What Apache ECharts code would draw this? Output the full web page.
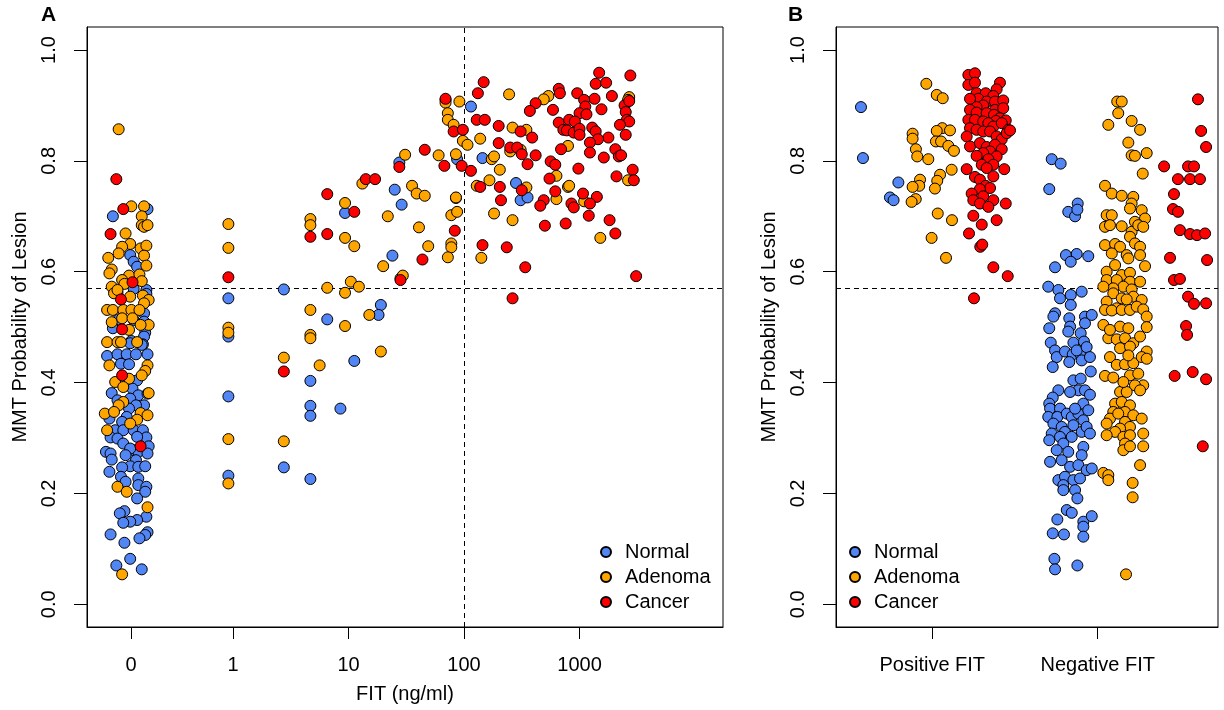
<!DOCTYPE html>
<html><head><meta charset="utf-8">
<script src="https://cdn.jsdelivr.net/npm/echarts@6/dist/echarts.min.js"></script>
<style>html,body{margin:0;padding:0;background:#fff}#c{width:1224px;height:710px}</style>
</head><body><div id="c"></div>
<script>
// ---------- DATA ----------
const classes = ['Normal', 'Adenoma', 'Cancer'];
const classColors = ['#5286F4', '#FFA500', '#FF0000'];
const yTicks = [0, 0.2, 0.4, 0.6, 0.8, 1.0];
const xTickLabelsA = ['0', '1', '10', '100', '1000'];   // FIT ng/ml (log axis, 0 drawn at ZERO_POS)
const ZERO_POS = -0.883;                               // log10-axis position where FIT = 0 is drawn
const xTickLabelsB = ['Positive FIT', 'Negative FIT'];  // group positions 1 and 2
const mmtCutoff = 0.57;
const fitCutoff = 100;

// Panel A: [log10(FIT) (zero group jittered around ZERO_POS), MMT probability]
const aNormal = [
[-1.04,0.70],[-0.74,0.713],[-0.89,0.63],[-0.86,0.618],[-0.83,0.609],[-0.86,0.569],[-1.0,0.562],[-0.75,0.567],[-0.75,0.56],[-0.77,0.525],[-0.99,0.514],[-0.86,0.513],[-0.77,0.51],[-1.04,0.498],[-0.76,0.49],[-0.77,0.483],[-0.88,0.475],[-0.78,0.469],
[-0.89,0.471],[-0.79,0.468],[-1.09,0.448],[-1.0,0.451],[-0.92,0.451],[-0.84,0.451],[-0.74,0.451],[-0.97,0.434],[-0.90,0.433],[-0.83,0.404],[-0.87,0.389],[-1.05,0.381],[-0.82,0.377],[-0.74,0.38],[-1.0,0.368],[-0.89,0.371],[-0.77,0.359],[-0.84,0.359],[-0.90,0.353],[-1.07,0.335],[-0.92,0.338],[-0.96,0.329],[-1.02,0.314],[-0.95,0.314],[-0.86,0.314],[-0.78,0.314],[-1.06,0.301],[-1.0,0.299],[-0.75,0.301],[-0.83,0.302],[-0.95,0.29],[-0.73,0.285],[-0.86,0.278],[-0.82,0.275],[-0.74,0.272],[-0.89,0.281],[-1.10,0.275],[-1.06,0.272],[-0.93,0.269],[-1.05,0.261],[-0.84,0.26],[-0.89,0.249],[-0.82,0.248],[-0.76,0.249],[-1.07,0.239],[-0.96,0.247],[-0.97,0.23],[-0.93,0.221],[-0.82,0.227],[-0.82,0.215],[-0.75,0.212],[-0.76,0.203],[-0.83,0.191],[-0.94,0.168],[-0.98,0.164],[-0.75,0.158],[-0.83,0.152],[-0.89,0.149],[-0.95,0.147],[-1.06,0.126],[-0.74,0.13],[-0.76,0.125],[-0.81,0.119],[-0.94,0.111],[-0.89,0.082],[-1.01,0.07],[-0.79,0.063],
[-0.04,0.552],[-0.04,0.483],[-0.04,0.375],[-0.04,0.232],[0.44,0.568],[0.44,0.247],[0.67,0.403],[0.67,0.358],[0.67,0.34],[0.67,0.226],[0.816,0.514],[0.93,0.353],[0.97,0.706],[1.05,0.439],[1.40,0.748],[1.46,0.721],[1.28,0.54],[1.26,0.522],[1.38,0.629],[1.44,0.797],[1.94,0.803],
[2.06,0.898],[2.16,0.805],[2.45,0.76],[2.49,0.729],[2.55,0.734]
];
const aAdenoma = [
[-0.99,0.857],[-0.88,0.718],[-0.77,0.718],[-0.79,0.70],[-0.79,0.684],[-0.77,0.681],[-0.74,0.684],[-0.93,0.669],[-0.89,0.65],[-0.96,0.645],[-0.99,0.633],[-0.80,0.642],[-0.75,0.647],[-0.77,0.629],[-1.08,0.625],[-0.75,0.611],[-1.05,0.604],[-1.07,0.597],[-0.90,0.593],[-0.96,0.585],[-0.94,0.578],[-0.81,0.595],[-0.79,0.583],[-1.05,0.573],[-1.03,0.561],[-1.0,0.567],[-0.78,0.557],[-0.73,0.549],[-0.89,0.555],[-0.77,0.543],[-1.09,0.531],[-1.04,0.531],[-0.95,0.531],[-0.88,0.531],[-0.81,0.531],[-1.05,0.509],[-0.96,0.516],[-0.87,0.516],[-0.73,0.504],[-0.80,0.504],[-0.90,0.495],[-1.09,0.473],[-1.0,0.473],[-0.97,0.473],[-0.83,0.473],
[-1.07,0.431],[-0.74,0.431],[-0.76,0.421],[-0.79,0.413],[-0.90,0.407],[-1.02,0.401],[-0.95,0.392],[-0.73,0.381],[-0.95,0.365],[-0.99,0.359],[-1.11,0.344],[-1.03,0.347],[-0.80,0.345],[-0.74,0.341],[-0.83,0.333],[-0.89,0.326],[-1.09,0.314],[-1.0,0.212],[-0.92,0.203],[-0.74,0.175],[-0.96,0.054],
[-0.04,0.686],[-0.04,0.643],[-0.04,0.499],[-0.04,0.49],[-0.04,0.298],[-0.04,0.218],[0.44,0.445],[0.44,0.294],[0.67,0.695],[0.67,0.684],[0.67,0.531],[0.67,0.486],[0.67,0.48],[0.816,0.571],[0.75,0.431],
[0.97,0.724],[0.97,0.661],[0.97,0.562],[0.97,0.502],[1.05,0.646],[1.02,0.582],[1.09,0.573],[1.12,0.759],[1.34,0.70],[1.55,0.755],[1.59,0.741],[1.66,0.737],[1.18,0.522],[1.28,0.456],[1.30,0.61],[1.45,0.588],[1.47,0.593],
[1.61,0.68],[1.69,0.646],[1.89,0.651],[1.89,0.644],[1.86,0.626],[1.89,0.702],[1.94,0.708],[1.93,0.733],[1.49,0.811],[1.78,0.81],
[2.39,0.92],[2.73,0.917],[2.69,0.911],[3.43,0.915],[3.42,0.91],[1.84,0.91],[1.84,0.905],[1.96,0.907],[1.86,0.886],[1.86,0.874],[1.91,0.865],[2.42,0.86],[2.54,0.856],[2.14,0.84],[1.99,0.836],[2.03,0.829],[2.40,0.817],[2.49,0.82],[2.90,0.827],[1.93,0.812],[2.24,0.803],[2.26,0.808],[2.31,0.784],[2.80,0.773],[3.42,0.765],[2.22,0.765],[2.11,0.755],[2.54,0.752],[2.90,0.753],[2.91,0.755],[3.04,0.727],[2.80,0.731],[1.93,0.734],[2.26,0.705],[2.42,0.693],[3.18,0.661],[2.15,0.625]
];
const aCancer = [
[-1.01,0.767],[-0.95,0.713],[-1.06,0.668],[-0.87,0.581],[-0.97,0.55],[-0.96,0.496],[-0.96,0.413],[-0.80,0.285],
[-0.04,0.59],[0.44,0.42],[0.67,0.663],[0.816,0.74],[0.816,0.668],[1.05,0.708],[1.15,0.767],[1.23,0.767],[1.44,0.789],[1.45,0.585],[1.64,0.622],[1.66,0.82],[1.83,0.791],[1.92,0.674],[1.84,0.912],
[3.17,0.959],[3.44,0.954],[2.17,0.942],[3.14,0.939],[3.23,0.941],[2.12,0.922],[2.82,0.93],[2.83,0.922],[2.98,0.922],[3.28,0.917],[2.62,0.904],[3.13,0.912],[3.04,0.91],[3.05,0.898],[3.39,0.90],[3.40,0.888],[3.43,0.908],[2.57,0.89],[2.77,0.892],[3.0,0.886],[3.06,0.884],[3.19,0.893],[2.11,0.874],[2.18,0.874],[2.82,0.869],[2.91,0.874],[2.96,0.871],[3.41,0.874],[3.43,0.871],[2.30,0.863],[3.35,0.865],[3.11,0.86],[2.49,0.853],[2.59,0.842],[1.91,0.853],[1.99,0.856],[2.86,0.856],[2.89,0.855],[2.95,0.851],[3.0,0.858],[3.0,0.847],[3.25,0.842],[3.40,0.847],[3.14,0.853],[3.16,0.839],[2.30,0.832],[3.09,0.833],[3.09,0.815],[2.40,0.824],[2.46,0.824],[2.50,0.812],[2.84,0.821],[3.31,0.821],[3.34,0.808],[3.36,0.81],[3.21,0.806],[2.62,0.81],[1.98,0.791],[2.06,0.782],[2.55,0.794],[2.75,0.799],[2.79,0.793],[2.99,0.786],[2.74,0.768],[3.46,0.784],[3.47,0.765],[3.32,0.772],[2.14,0.753],[2.31,0.753],[2.50,0.747],[2.79,0.745],[3.03,0.741],[3.15,0.735],[3.09,0.723],[2.93,0.723],[2.95,0.716],[2.69,0.729],[2.66,0.719],[2.32,0.729],[3.08,0.701],[3.26,0.693],[2.70,0.683],[2.88,0.687],[3.31,0.669],[2.16,0.648],[2.37,0.644],[2.53,0.608],[3.49,0.592],[2.42,0.552]
];

// Panel B: [jittered group position (Positive FIT = 1, Negative FIT = 2), MMT probability]
const bNormal = [
[0.569,0.897],[0.581,0.805],[0.795,0.761],[0.744,0.734],[0.766,0.729],
[1.722,0.803],[1.776,0.795],[1.707,0.749],[1.879,0.723],[1.822,0.708],[1.863,0.70],[1.877,0.712],
[1.808,0.63],[1.873,0.632],[1.837,0.618],[1.943,0.628],[1.742,0.608],
[1.701,0.573],[1.762,0.567],[1.772,0.552],[1.837,0.558],[1.903,0.564],[1.837,0.54],
[1.742,0.525],[1.732,0.519],[1.707,0.498],[1.828,0.516],[1.833,0.501],[1.923,0.519],[1.923,0.507],
[1.822,0.492],[1.897,0.489],[1.853,0.472],[1.917,0.474],
[1.716,0.472],[1.742,0.458],[1.752,0.446],[1.728,0.428],
[1.802,0.456],[1.849,0.451],[1.893,0.452],[1.828,0.437],[1.873,0.458],[1.903,0.44],[1.933,0.464],[1.953,0.446],
[1.853,0.404],[1.897,0.407],[1.883,0.386],[1.833,0.383],[1.923,0.386],[1.762,0.386],[1.728,0.373],
[1.707,0.362],[1.712,0.353],[1.701,0.338],[1.772,0.353],[1.756,0.338],[1.813,0.344],[1.843,0.338],[1.883,0.344],[1.913,0.362],[1.913,0.332],[1.943,0.35],[1.863,0.353],
[1.732,0.326],[1.782,0.32],[1.853,0.323],[1.802,0.311],[1.722,0.308],[1.772,0.302],[1.843,0.302],[1.903,0.311],[1.933,0.32],[1.707,0.296],[1.792,0.29],[1.822,0.275],[1.752,0.278],[1.913,0.284],[1.903,0.269],[1.712,0.257],[1.782,0.26],
[1.833,0.248],[1.883,0.251],[1.933,0.242],[1.762,0.224],[1.802,0.23],[1.853,0.224],[1.893,0.227],[1.792,0.215],[1.863,0.206],[1.792,0.206],[1.877,0.191],
[1.813,0.17],[1.843,0.165],[1.756,0.153],[1.913,0.149],[1.913,0.14],[1.913,0.122],[1.796,0.126],[1.728,0.128],[1.738,0.082],[1.742,0.063],[1.877,0.07],
[1.964,0.522],[1.958,0.42],[1.953,0.378],[1.953,0.308],[1.964,0.245],[1.964,0.159]
];
const bAdenoma = [
[0.964,0.939],[1.027,0.919],[1.063,0.913],[1.06,0.859],[1.107,0.855],[1.027,0.854],[0.881,0.849],[0.881,0.84],[1.022,0.835],[1.053,0.835],[1.097,0.827],[1.131,0.818],[0.901,0.821],[0.909,0.808],[0.976,0.803],[1.117,0.784],[0.926,0.766],[0.921,0.755],[0.881,0.753],[1.047,0.775],[1.03,0.764],[1.016,0.75],[0.9,0.731],[0.875,0.726],[1.033,0.705],[1.119,0.693],[0.996,0.661],[1.083,0.625],
[2.118,0.907],[2.145,0.907],[2.124,0.886],[2.064,0.865],[2.205,0.872],[2.256,0.856],[2.185,0.833],[2.205,0.81],[2.225,0.809],[2.296,0.814],[2.272,0.777],
[2.044,0.755],[2.085,0.741],[2.145,0.737],[2.215,0.735],
[2.205,0.723],[2.195,0.714],[2.266,0.711],[2.286,0.696],[2.054,0.702],[2.085,0.702],[2.044,0.681],[2.074,0.684],[2.145,0.682],[2.225,0.69],[2.205,0.672],[2.245,0.684],[2.195,0.663],[2.275,0.681],
[2.044,0.648],[2.105,0.65],[2.135,0.645],[2.085,0.633],[2.225,0.651],[2.256,0.645],[2.256,0.63],[2.175,0.63],[2.185,0.624],
[2.286,0.61],[2.105,0.612],[2.054,0.6],[2.145,0.594],[2.195,0.598],[2.054,0.585],[2.115,0.585],[2.195,0.582],[2.256,0.582],[2.155,0.573],[2.094,0.57],[2.205,0.568],[2.034,0.573],
[2.094,0.561],[2.145,0.552],[2.215,0.555],[2.266,0.549],[2.054,0.546],[2.175,0.55],[2.115,0.534],[2.044,0.531],[2.085,0.53],[2.145,0.531],[2.195,0.531],[2.236,0.537],[2.275,0.532],[2.296,0.519],
[2.034,0.504],[2.135,0.501],[2.185,0.498],[2.296,0.5],[2.064,0.48],[2.115,0.478],[2.165,0.48],[2.215,0.471],[2.256,0.483],[2.074,0.495],
[2.135,0.462],[2.195,0.465],[2.296,0.456],[2.074,0.446],[2.115,0.432],[2.165,0.433],[2.215,0.435],[2.266,0.446],[2.296,0.443],[2.185,0.449],
[2.044,0.412],[2.094,0.409],[2.195,0.413],[2.245,0.416],[2.275,0.395],[2.225,0.395],[2.135,0.383],[2.175,0.383],[2.256,0.386],[2.155,0.401],
[2.105,0.362],[2.145,0.365],[2.195,0.359],[2.094,0.347],[2.165,0.347],[2.215,0.341],[2.266,0.335],[2.074,0.335],[2.124,0.344],[2.054,0.326],[2.165,0.329],[2.195,0.32],
[2.135,0.317],[2.105,0.311],[2.155,0.302],[2.195,0.305],[2.054,0.305],[2.275,0.308],[2.165,0.29],[2.155,0.278],[2.195,0.285],[2.275,0.285],[2.256,0.251],
[2.034,0.237],[2.064,0.233],[2.064,0.224],[2.211,0.219],[2.211,0.193],[2.171,0.054]
];
const bCancer = [
[1.218,0.955],[1.258,0.958],[1.218,0.937],[1.258,0.941],[1.409,0.941],[1.389,0.929],
[1.268,0.922],[1.323,0.922],[1.278,0.912],[1.228,0.912],[1.369,0.917],[1.329,0.907],[1.379,0.907],[1.429,0.909],
[1.308,0.90],[1.268,0.897],[1.228,0.892],[1.379,0.892],[1.429,0.895],[1.268,0.887],[1.329,0.886],[1.373,0.883],
[1.218,0.874],[1.258,0.874],[1.308,0.871],[1.409,0.877],[1.444,0.873],[1.385,0.872],[1.339,0.868],[1.369,0.862],[1.42,0.868],
[1.228,0.859],[1.268,0.856],[1.308,0.853],[1.349,0.853],[1.459,0.856],[1.208,0.844],[1.389,0.844],[1.42,0.839],[1.45,0.85],[1.47,0.855],
[1.228,0.826],[1.288,0.832],[1.329,0.825],[1.379,0.829],[1.42,0.821],[1.349,0.817],[1.308,0.814],[1.268,0.809],[1.389,0.808],[1.339,0.803],
[1.299,0.793],[1.369,0.793],[1.208,0.785],[1.435,0.785],[1.329,0.787],[1.258,0.771],[1.288,0.766],[1.369,0.772],
[1.323,0.755],[1.349,0.751],[1.288,0.749],[1.238,0.741],[1.308,0.736],[1.369,0.729],[1.248,0.729],[1.288,0.723],[1.339,0.717],[1.444,0.723],
[1.248,0.701],[1.389,0.693],[1.299,0.685],[1.222,0.669],[1.29,0.645],[1.302,0.649],[1.369,0.608],[1.456,0.592],[1.252,0.552],
[2.606,0.911],[2.625,0.854],[2.655,0.825],[2.401,0.79],[2.546,0.79],[2.582,0.79],[2.485,0.767],[2.558,0.767],[2.618,0.767],[2.461,0.74],[2.455,0.713],[2.485,0.708],[2.497,0.675],[2.558,0.668],[2.6,0.666],[2.649,0.669],[2.437,0.625],[2.461,0.585],[2.497,0.587],[2.661,0.621],[2.546,0.555],[2.582,0.542],[2.655,0.543],[2.534,0.502],[2.540,0.486],[2.465,0.412],[2.574,0.419],[2.655,0.406],[2.635,0.285]
];

// ---------- CHART ----------
const FONT = '"Liberation Sans", Arial, Helvetica, sans-serif';
const xTickPosA = xTickLabelsA.map(l => l === '0' ? ZERO_POS : Math.log10(Number(l)));
const xTickPosB = xTickLabelsB.map((l, i) => i + 1);
const lineBlack = { color: '#000', width: 1 };

function labelFor(pos, labels, v) {
  const i = pos.findIndex(p => Math.abs(p - v) < 1e-6);
  return i >= 0 ? labels[i] : '';
}
function xAxisDef(gi, min, max, pos, labels, name) {
  return {
    gridIndex: gi, type: 'value', min, max,
    axisLine: { show: true, onZero: false, lineStyle: lineBlack },
    axisTick: { show: true, length: 12, customValues: pos, lineStyle: lineBlack },
    axisLabel: { customValues: pos, formatter: v => labelFor(pos, labels, v), margin: 28,
      fontSize: 20, color: '#000', fontFamily: FONT },
    splitLine: { show: false },
    name, nameLocation: 'middle', nameGap: 57,
    nameTextStyle: { fontSize: 20, color: '#000', fontFamily: FONT }
  };
}
function yAxisDef(gi) {
  return {
    gridIndex: gi, type: 'value', min: -0.041, max: 1.0415,
    axisLine: { show: true, onZero: false, lineStyle: lineBlack },
    axisTick: { show: true, length: 13, customValues: yTicks, lineStyle: lineBlack },
    axisLabel: { customValues: yTicks, formatter: v => v.toFixed(1), rotate: 90, margin: 28,
      fontSize: 20, color: '#000', fontFamily: FONT },
    splitLine: { show: false },
    name: 'MMT Probability of Lesion', nameLocation: 'middle', nameGap: 57, nameRotate: 90,
    nameTextStyle: { fontSize: 20, color: '#000', fontFamily: FONT }
  };
}
function scatter(name, data, gi, color) {
  return {
    type: 'scatter', name, data, xAxisIndex: gi, yAxisIndex: gi,
    symbol: 'circle', symbolSize: 11, z: 3, silent: true,
    itemStyle: { color, borderColor: '#000', borderWidth: 1, opacity: 1 },
    emphasis: { disabled: true }
  };
}
function dashLines(gi, lines) {
  return {
    type: 'scatter', name: 'cutoff', data: [], xAxisIndex: gi, yAxisIndex: gi, silent: true,
    markLine: { silent: true, symbol: ['none', 'none'], z: 1, animation: false,
      label: { show: false }, lineStyle: { color: '#000', width: 1, type: [5, 4] }, data: lines }
  };
}
function legendDef(left) {
  return {
    left, top: 542, orient: 'vertical', padding: 0, itemWidth: 10, itemHeight: 10, itemGap: 5,
    selectedMode: false, data: classes,
    textStyle: { fontSize: 20, lineHeight: 20, color: '#000', fontFamily: FONT, padding: [0, 0, 0, 9] }
  };
}

const chart = echarts.init(document.getElementById('c'), null, { renderer: 'canvas' });
chart.setOption({
  animation: false,
  backgroundColor: '#fff',
  title: [
    { text: 'A', left: 41, top: 5, padding: 0, textStyle: { fontSize: 21, fontWeight: 'bold', color: '#000', fontFamily: FONT } },
    { text: 'B', left: 788, top: 5, padding: 0, textStyle: { fontSize: 21, fontWeight: 'bold', color: '#000', fontFamily: FONT } }
  ],
  grid: [
    { left: 87, top: 27, width: 636, height: 600, show: true, borderColor: '#000', borderWidth: 1, backgroundColor: 'transparent' },
    { left: 836, top: 27, width: 382, height: 600, show: true, borderColor: '#000', borderWidth: 1, backgroundColor: 'transparent' }
  ],
  xAxis: [
    xAxisDef(0, -1.264, 4.242, xTickPosA, xTickLabelsA, 'FIT (ng/ml)'),
    xAxisDef(1, 0.418, 2.727, xTickPosB, xTickLabelsB, '')
  ],
  yAxis: [yAxisDef(0), yAxisDef(1)],
  legend: [legendDef(600), legendDef(849)],
  series: [
    dashLines(0, [{ yAxis: mmtCutoff }, { xAxis: Math.log10(fitCutoff) }]),
    dashLines(1, [{ yAxis: mmtCutoff }]),
    scatter(classes[0], aNormal, 0, classColors[0]),
    scatter(classes[1], aAdenoma, 0, classColors[1]),
    scatter(classes[2], aCancer, 0, classColors[2]),
    scatter(classes[0], bNormal, 1, classColors[0]),
    scatter(classes[1], bAdenoma, 1, classColors[1]),
    scatter(classes[2], bCancer, 1, classColors[2])
  ]
});
</script></body></html>
